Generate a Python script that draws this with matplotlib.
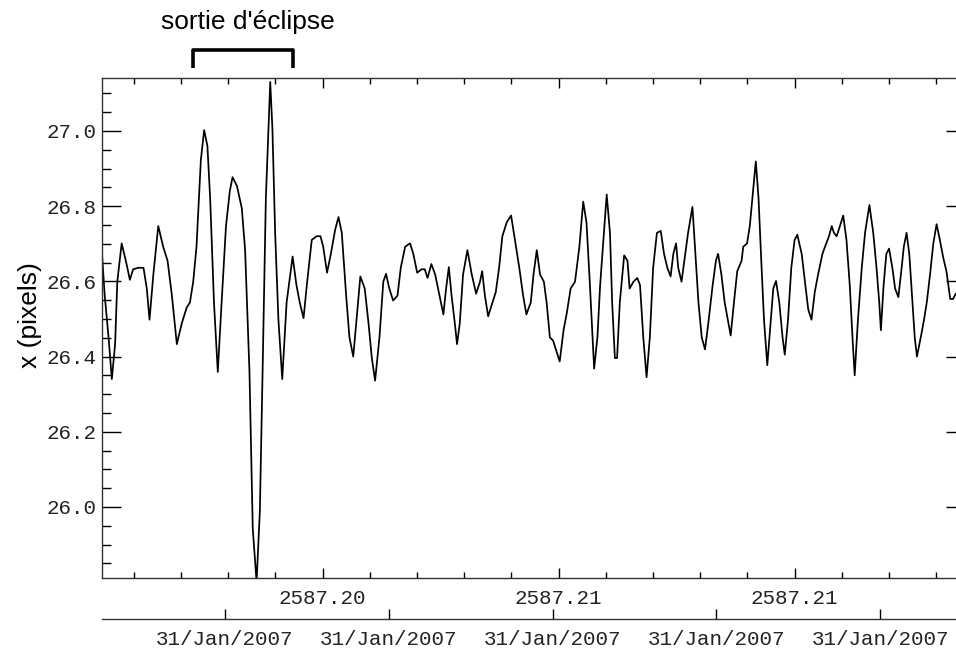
import numpy as np
from matplotlib import pyplot as plt
from matplotlib.ticker import MultipleLocator, FormatStrFormatter

# temps depuis le debut de la sequence (s)
t_sec = [0, 5, 12, 18, 24, 28, 36, 45, 51, 57, 66, 76, 82, 87, 94, 103, 112, 120, 128, 137,
         146, 155, 161, 167, 173, 181, 187, 193, 198, 205, 212, 219, 227, 234, 239, 247, 256, 262, 270, 276,
         283, 289, 294, 300, 308, 312, 317, 323, 330, 338, 349, 356, 362, 369, 375, 384, 393, 400, 405, 412,
         419, 427, 433, 439, 447, 453, 460, 466, 473, 481, 488, 494, 500, 508, 515, 520,
         526, 533, 541, 547, 555, 564, 570, 577, 585, 591, 596, 603, 610, 618, 625, 630, 635, 640, 646, 650,
         655, 661, 669, 677, 685, 692, 696, 701, 707, 715, 721, 727, 733, 741, 749, 756, 764, 771, 777, 785,
         790, 796, 802, 809, 814, 820, 826, 832, 838, 845, 851, 858, 866, 874, 881, 887, 893, 898, 901, 907,
         912, 919, 924, 930, 934, 939, 943, 948, 956, 962, 966, 973, 980, 985, 991, 997, 1003, 1009, 1016, 1023,
         1029, 1035, 1041, 1046, 1051,
         1055, 1061, 1067, 1073, 1081, 1086, 1092, 1098, 1104, 1110, 1118, 1124, 1128, 1134, 1140, 1147, 1151, 1157,
         1163, 1171, 1174, 1181, 1186, 1192, 1197, 1202, 1207, 1212, 1218, 1224, 1229, 1234, 1240, 1246, 1250, 1256,
         1262, 1268, 1273, 1281, 1287, 1293, 1299, 1305, 1311, 1319, 1326, 1331, 1336, 1340, 1345, 1351, 1357, 1363,
         1369, 1374, 1378, 1384, 1391, 1397, 1405, 1412, 1418, 1423, 1426, 1431, 1436, 1441, 1447, 1452, 1458, 1464,
         1468, 1473, 1478, 1483, 1488, 1492, 1499, 1505, 1510, 1516, 1522, 1528, 1534, 1540, 1546, 1553, 1558, 1563,
         1580]

# position x du centroide (pixels)
x_pos = [26.673, 26.562, 26.451, 26.340, 26.433, 26.599, 26.701, 26.646, 26.604, 26.632, 26.636, 26.636, 26.581,
         26.498, 26.618, 26.747, 26.692, 26.655, 26.562, 26.433,
         26.488, 26.530, 26.544, 26.599, 26.692, 26.923, 27.002, 26.960, 26.821, 26.544, 26.359, 26.544, 26.747,
         26.840, 26.877, 26.854, 26.794, 26.683, 26.359, 25.943,
         25.800, 25.989, 26.359, 26.821, 27.130, 27.006, 26.729, 26.498, 26.340, 26.544, 26.666, 26.590, 26.544,
         26.502, 26.590, 26.710, 26.720, 26.720, 26.692, 26.623,
         26.673, 26.738, 26.771, 26.729, 26.562, 26.451, 26.400, 26.498, 26.613, 26.581, 26.488, 26.396, 26.336,
         26.451, 26.599, 26.620,
         26.581, 26.549, 26.562, 26.636, 26.692, 26.701, 26.673, 26.623, 26.632, 26.632, 26.609, 26.646, 26.618,
         26.562, 26.512, 26.581, 26.638, 26.562, 26.488, 26.433,
         26.488, 26.618, 26.683, 26.618, 26.567, 26.599, 26.627, 26.562, 26.507, 26.544, 26.572, 26.636, 26.720,
         26.757, 26.775, 26.710, 26.636, 26.562, 26.512, 26.544,
         26.618, 26.683, 26.618, 26.599, 26.544, 26.451, 26.442, 26.414, 26.387, 26.470, 26.516, 26.581, 26.599,
         26.692, 26.812, 26.757, 26.599, 26.451, 26.368, 26.451,
         26.590, 26.729, 26.831, 26.729, 26.544, 26.396, 26.396, 26.544, 26.669, 26.655, 26.581, 26.599, 26.609,
         26.590, 26.451, 26.345, 26.451, 26.636, 26.729, 26.734,
         26.673, 26.636, 26.613, 26.673, 26.701,
         26.636, 26.599, 26.664, 26.729, 26.798, 26.683, 26.544, 26.451, 26.419, 26.488, 26.590, 26.655, 26.673,
         26.618, 26.544, 26.488, 26.456, 26.544,
         26.627, 26.655, 26.692, 26.701, 26.747, 26.840, 26.919, 26.821, 26.655, 26.498, 26.377, 26.488, 26.581,
         26.601, 26.544, 26.451, 26.405, 26.498,
         26.636, 26.710, 26.724, 26.673, 26.599, 26.525, 26.498, 26.572, 26.618, 26.673, 26.701, 26.720, 26.747,
         26.729, 26.720, 26.747, 26.775, 26.710,
         26.590, 26.451, 26.350, 26.498, 26.636, 26.729, 26.803, 26.729, 26.636, 26.544, 26.470, 26.590, 26.673,
         26.687, 26.636, 26.581, 26.558, 26.636,
         26.692, 26.729, 26.673, 26.562, 26.451, 26.400, 26.451, 26.498, 26.544, 26.618, 26.701, 26.752, 26.710,
         26.664, 26.627, 26.553, 26.553, 26.567,
         26.580]

t_start = 2587.195324  # jours
major_days = [2587.200, 2587.205, 2587.210]
major_labels = ['2587.20', '2587.21', '2587.21']
date_tick_sec = [225, 525, 825, 1125, 1425]
date_labels = ['31/Jan/2007'] * 5
eclipse_sec = [167, 350]

W, H = 956, 651
tick_font = 'Liberation Mono'

fig = plt.figure(figsize=(W / 100, H / 100), dpi=100)
ax = fig.add_axes([102 / W, 1 - 577.5 / H, (965 - 102) / W, 500 / H])

days = t_start + np.array(t_sec) / 86400.
ax.plot(days, x_pos, color='black', lw=1.25)

ax.set_xlim(t_start, t_start + 1580 / 86400.)
ax.set_ylim(25.8125, 27.142)

# axe du haut (jours)
ax.set_xticks(major_days, major_labels)
ax.xaxis.set_minor_locator(MultipleLocator(0.001))
ax.yaxis.set_major_locator(MultipleLocator(0.2))
ax.yaxis.set_minor_locator(MultipleLocator(0.05))
ax.yaxis.set_major_formatter(FormatStrFormatter('%.1f'))

ax.tick_params(which='both', direction='in', top=True, right=True, color='black', width=1.0,
               labelsize=15, labelcolor='#222222', labelfontfamily=tick_font)
ax.tick_params(axis='x', which='major', length=7.5, pad=8)
ax.tick_params(axis='x', which='minor', length=4.3)
ax.tick_params(axis='y', which='major', length=13.5, pad=4)
ax.tick_params(axis='y', which='minor', length=6.5)
for s in ax.spines.values():
    s.set_linewidth(1.0)
    s.set_color('#333333')

# axe des dates
sec = ax.secondary_xaxis(-0.083)
sec.set_xticks(t_start + np.array(date_tick_sec) / 86400., date_labels)
sec.tick_params(direction='in', length=7, width=1.0, pad=8, labelsize=15, labelcolor='#222222',
                labelfontfamily=tick_font)
for s in sec.spines.values():
    s.set_linewidth(1.0)
    s.set_color('#333333')

fig.text(30 / W, 1 - 315 / H, 'x (pixels)', rotation=90, fontsize=19, family='Liberation Sans',
         ha='center', va='center')

# crochet "sortie d'eclipse"
bx = t_start + np.array(eclipse_sec) / 86400.
ax.plot([bx[0], bx[0], bx[1], bx[1]], [27.1676, 27.2154, 27.2154, 27.1676], color='black', lw=2.6,
        clip_on=False, solid_capstyle='butt')
fig.text(248 / W, 1 - 22 / H, "sortie d'éclipse", fontsize=19, family='Liberation Sans',
         ha='center', va='center')

plt.savefig('out.png', dpi=100)
